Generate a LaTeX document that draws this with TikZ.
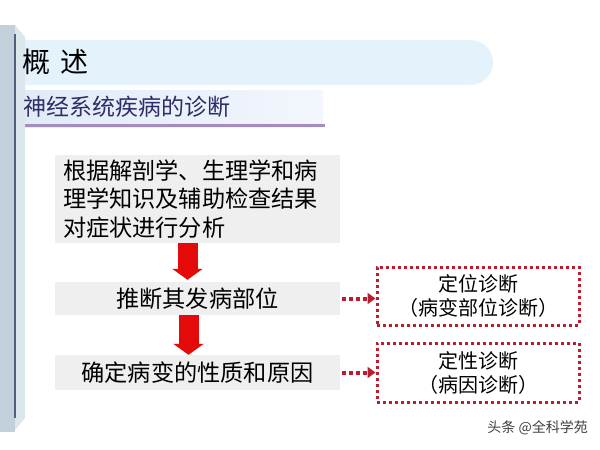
\documentclass[tikz,border=0pt]{standalone}
\usepackage{fontspec}
\setmainfont{Noto Sans CJK SC}
\usetikzlibrary{arrows.meta}
\definecolor{pillblue}{HTML}{E4F3FB}
\definecolor{subleft}{HTML}{E0EBF7}
\definecolor{subright}{HTML}{F3F6FD}
\definecolor{underl}{HTML}{A48CBD}
\definecolor{navy}{HTML}{2E2E66}
\definecolor{boxgray}{HTML}{EFEFEF}
\definecolor{arrowred}{HTML}{E40A0A}
\definecolor{dotred}{HTML}{B81E2D}
\definecolor{barleft}{HTML}{C2D0DB}
\definecolor{barright}{HTML}{DCE6ED}
\definecolor{barline}{HTML}{50607A}
\begin{document}
\begin{tikzpicture}[x=1pt,y=-1pt,
  graybox/.style={fill=boxgray, draw=none, minimum width=285pt, inner sep=0pt, font=\fontsize{23.2}{28.5}\selectfont},
  dotbox/.style={draw=dotred, line width=3pt, dash pattern=on 3pt off 3pt, minimum width=202pt, align=center, inner sep=0pt, font=\fontsize{20}{24}\selectfont},
  bigarrow/.style={draw=arrowred, line width=20pt, -{Triangle[width=30pt,length=11pt]}},
  dotarrow/.style={draw=dotred, line width=4pt, dash pattern=on 4pt off 3pt, -{Triangle[width=11pt,length=8pt]}},
]
\useasboundingbox[fill=white] (0,0) rectangle (600,450);
% title band
\fill[pillblue, rounded corners=22.5pt] (-30,40) rectangle (493,85);
% subtitle band
\shade[left color=subleft, right color=subright] (15,90) rectangle (323,127);
\draw[underl, line width=3pt] (15,125.5) -- (325,125.5);
% left bar
\fill[barleft] (0,25) rectangle (15,432);
\fill[barright] (15,25) -- (25,37) -- (25,418) -- (15,430) -- cycle;
\draw[barline, line width=1.5pt] (15,34) -- (15,418);
% titles
\node[anchor=west, inner sep=0pt, font=\fontsize{28}{28}\selectfont] (title) at (22,62) {概\hspace{10pt}述};
\node[anchor=west, inner sep=0pt, text=navy, font=\fontsize{23}{23}\selectfont] (sub) at (23,107) {神经系统疾病的诊断};
% main boxes
\node[graybox, minimum height=88pt, text width=269pt, align=left, inner xsep=8pt] (b1) at (197.5,199) {根据解剖学、生理学和病\\理学知识及辅助检查结果\\对症状进行分析};
\node[graybox, minimum height=33pt] (b2) at (197.5,298.5) {推断其发病部位};
\node[graybox, minimum height=35pt] (b3) at (197.5,372.5) {确定病变的性质和原因};
% dotted boxes
\node[dotbox, minimum height=58pt] (d1) at (478,296) {定位诊断\\（病变部位诊断）};
\node[dotbox, minimum height=59pt] (d2) at (478,372.5) {定性诊断\\（病因诊断）};
% arrows
\draw[bigarrow, shorten >=2pt] ([xshift=-10pt]b1.south) -- ([xshift=-10pt]b2.north);
\draw[bigarrow] ([xshift=-9pt]b2.south) -- ([xshift=-9pt]b3.north);
\draw[dotarrow] ([xshift=2pt]b2.east) -- (b2.east -| d1.west);
\draw[dotarrow] ([xshift=2pt]b3.east) -- (b3.east -| d2.west);
% watermark
\node[anchor=east, inner sep=0pt, text=black!75, font=\fontsize{14}{14}\selectfont] (wm) at (588,428) {头条 @全科学苑};
\end{tikzpicture}
\end{document}
